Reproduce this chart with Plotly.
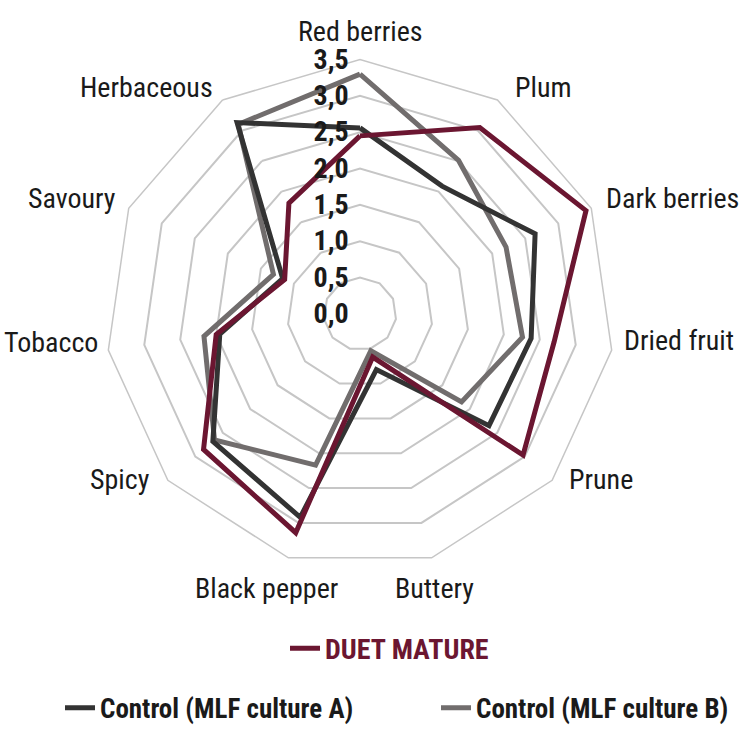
import plotly.graph_objects as go

categories = ["Red berries", "Plum", "Dark berries", "Dried fruit", "Prune", "Buttery",
              "Black pepper", "Spicy", "Tobacco", "Savoury", "Herbaceous"]

duet_mature = [2.45, 3.05, 3.42, 2.70, 2.97, 0.62, 3.14, 2.85, 2.00, 1.14, 1.81]
control_a = [2.56, 2.09, 2.65, 2.38, 2.35, 0.80, 2.92, 2.68, 1.95, 1.17, 3.13]
control_b = [3.30, 2.51, 2.21, 2.26, 1.85, 0.53, 2.17, 2.65, 2.17, 1.31, 3.10]

radial_ticks = [0.0, 0.5, 1.0, 1.5, 2.0, 2.5, 3.0, 3.5]
radial_ticktext = ["0,0", "0,5", "1,0", "1,5", "2,0", "2,5", "3,0", "3,5"]

series = [
    ("Control (MLF culture B)", control_b, "#716d6d", "legend3"),
    ("Control (MLF culture A)", control_a, "#333333", "legend2"),
    ("DUET MATURE", duet_mature, "#6b1631", "legend"),
]

FONT = "Roboto Condensed, Liberation Sans, sans-serif"
W, H = 756, 733

# label placement (pixel anchor, x-anchor) for the category labels, same order as categories
label_place = [
    (360, 32, "center"), (513, 88, "left"), (604, 200, "left"), (622, 343, "left"),
    (567, 483, "left"), (435, 593, "center"), (266, 593, "center"), (152, 483, "right"),
    (100, 345, "right"), (118, 200, "right"), (215, 88, "right"),
]

fig = go.Figure()
for name, vals, color, leg in series:
    fig.add_trace(go.Scatterpolar(
        r=vals + vals[:1],
        theta=categories + categories[:1],
        mode="lines",
        name=name,
        line=dict(color=color, width=5),
        legend=leg,
    ))

for cat, (px, py, anc) in zip(categories, label_place):
    fig.add_annotation(
        text=cat, x=px / W, y=1 - py / H, xref="paper", yref="paper",
        xanchor=anc, yanchor="middle", showarrow=False,
        font=dict(family=FONT, size=28, color="#1a1a1a"),
    )


def leg_style(x_px, y_px, color, size):
    return dict(
        orientation="h",
        x=x_px / W, xanchor="left",
        y=1 - y_px / H, yanchor="middle",
        font=dict(family=FONT, size=size, color=color, weight="bold"),
        bgcolor="rgba(0,0,0,0)",
    )


fig.update_layout(
    width=W, height=H,
    margin=dict(l=0, r=0, t=0, b=0),
    paper_bgcolor="white",
    plot_bgcolor="white",
    font=dict(family=FONT, color="#1a1a1a"),
    polar=dict(
        domain=dict(x=[104 / W, 616 / W], y=[1 - 572 / H, 1 - 60 / H]),
        gridshape="linear",
        bgcolor="white",
        radialaxis=dict(
            range=[0, 3.5],
            angle=90,
            tickangle=90,
            side="counterclockwise",
            tickvals=radial_ticks,
            ticktext=radial_ticktext,
            showline=False,
            ticks="outside",
            ticklen=1,
            tickcolor="rgba(0,0,0,0)",
            gridcolor="#c6c6c6",
            gridwidth=1.5,
            tickfont=dict(family=FONT, size=28, color="#1a1a1a", weight="bold"),
            layer="above traces",
        ),
        angularaxis=dict(
            rotation=90,
            direction="clockwise",
            showgrid=False,
            showline=True,
            linecolor="#c6c6c6",
            linewidth=1.5,
            ticks="",
            showticklabels=False,
        ),
    ),
    showlegend=True,
    legend=leg_style(285, 653, "#6b1631", 28),
    legend2=leg_style(60, 713, "#1a1a1a", 27),
    legend3=leg_style(436, 713, "#1a1a1a", 27),
)

fig.write_html("out.html", config={"displayModeBar": False},
               post_script="document.body.style.margin='0';")
